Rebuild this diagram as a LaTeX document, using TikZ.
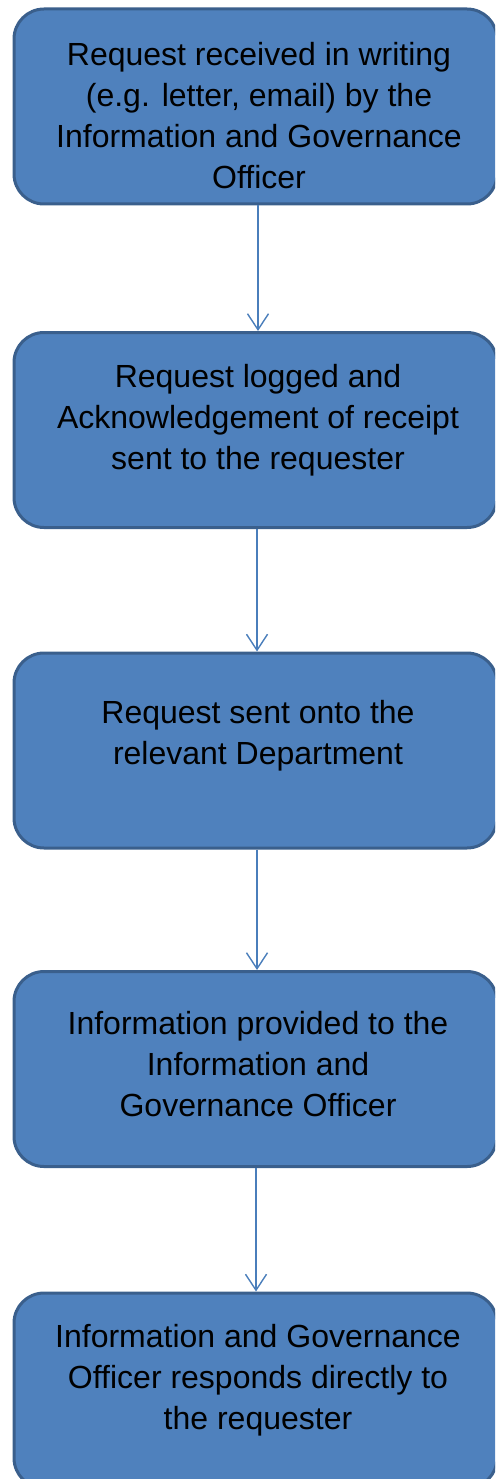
\documentclass[tikz,border=0pt]{standalone}
\usepackage{fontspec}
\setmainfont{Liberation Sans}
\usetikzlibrary{arrows.meta}
\definecolor{boxfill}{HTML}{4F81BD}
\definecolor{boxline}{HTML}{3A5F8C}
\definecolor{arrowcol}{HTML}{4A7EBB}
\begin{document}
\begin{tikzpicture}[x=1pt,y=-1pt,
  stepbox/.style={draw=boxline,fill=boxfill,line width=3pt,rounded corners=30pt,
    minimum width=483pt,minimum height=195pt,inner sep=0pt},
  label/.style={align=center,font=\fontsize{32}{41}\selectfont,text=black,inner sep=0pt},
  conn/.style={draw=arrowcol,line width=1.4pt,-{Straight Barb[length=16pt,width=21pt,line width=1.4pt]}}]
\useasboundingbox (0,0) rectangle (495,1479);
\clip (0,0) rectangle (495,1479);
\node[stepbox] (b1) at (255.5,106.5) {};
\node[stepbox] (b2) at (255.5,430) {};
\node[stepbox] (b3) at (255.5,750.5) {};
\node[stepbox] (b4) at (255.5,1069) {};
\node[stepbox] (b5) at (255.5,1390.5) {};
\node[label] (t1) at (259,116) {Request received in writing\\(e.g. letter, email) by the\\Information and Governance\\Officer};
\node[label] (t2) at (258,420) {Request logged and\\Acknowledgement of receipt\\sent to the requester};
\node[label] (t3) at (258,736) {Request sent onto the\\relevant Department};
\node[label] (t4) at (258,1064) {Information provided to the\\Information and\\Governance Officer};
\node[label] (t5) at (258,1380) {Information and Governance\\Officer responds directly to\\the requester};
\draw[conn] (b1.south -| 258,0) -- (b2.north -| 258,0);
\draw[conn] (b2.south -| 257,0) -- (b3.north -| 257,0);
\draw[conn] (b3.south -| 257,0) -- (b4.north -| 257,0);
\draw[conn] (b4.south -| 256,0) -- (b5.north -| 256,0);
\end{tikzpicture}
\end{document}
